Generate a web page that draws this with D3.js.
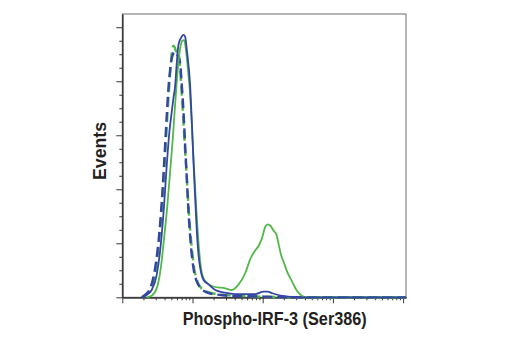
<!DOCTYPE html>
<html>
<head>
<meta charset="utf-8">
<script src="https://cdn.jsdelivr.net/npm/d3@7"></script>
<style>
  html, body { margin: 0; padding: 0; background: #fff; }
  svg { display: block; }
  .lbl { font-family: "Liberation Sans", Arial, sans-serif; font-weight: bold; fill: #231f20; }
</style>
</head>
<body>
<svg id="chart" width="520" height="350"></svg>
<script>
// Flow cytometry overlay: Phospho-IRF-3 (Ser386) intensity vs. events (% of max)
// Each series is a list of [intensity, events] points.

const xLabel = "Phospho-IRF-3 (Ser386)";
const yLabel = "Events";

const xMajorTicks = [10, 100, 1000, 10000, 100000];
const yMajorTicks = [0, 20, 40, 60, 80, 100];

// treated sample, phospho-IRF-3 antibody (green, solid)
const greenSolid = [
  [22.3, 0], [26.2, 0.6], [30.9, 3.3], [35.3, 10.7], [39.4, 21.9], [43.9, 34.2],
  [48.0, 46.5], [52.4, 58.9], [56.5, 71.2], [59.7, 79.9], [63.1, 87.3], [66.7, 92.2],
  [71.1, 94.9], [76.0, 95.2], [81.2, 91.0], [86.7, 83.6], [92.7, 74.9], [97.8, 63.8],
  [103.3, 51.5], [110.4, 37.9], [117.8, 25.6], [125.9, 15.7], [135.9, 8.9], [151.7, 6.0],
  [197.2, 4.0], [292.9, 3.3], [364.8, 2.7], [448.7, 4.6], [565, 9.0], [666.8, 14.2],
  [760, 16.9], [876.8, 19.1], [977.5, 21.9], [1091, 26.2], [1178, 27.0], [1288, 26.5],
  [1436, 24.6], [1567, 23.3], [1694, 19.4], [1827, 15.7], [1995, 13.0], [2227, 9.5],
  [2624, 5.8], [3093, 2.3], [3648, 0.5], [4299, 0], [110000, 0]
];

// untreated sample, phospho-IRF-3 antibody (blue, solid)
const blueSolid = [
  [19.3, 0], [22.3, 0.9], [26.2, 2.7], [30.9, 8.3], [35.3, 19.4], [39.4, 34.2],
  [43.0, 49.0], [46.9, 61.4], [50.7, 68.8], [53.5, 73.7], [56.5, 78.0], [59.7, 86.8],
  [63.1, 93.5], [68.1, 95.9], [74.4, 97.2], [78.5, 96.5], [83.0, 91.6], [92.7, 78.0],
  [97.8, 65.1], [103.3, 50.2], [109.2, 36.7], [115.3, 24.3], [121.8, 15.7], [131.5, 9.5],
  [143.6, 6.4], [169.4, 4.8], [210.9, 2.7], [323.6, 1.5], [407, 1.2], [785, 1.2],
  [1023, 2.1], [1178, 2.1], [1374, 1.5], [1909, 0.5], [2931, 0.1], [4797, 0], [110000, 0]
];

// treated sample, isotype control (green, dashed)
const greenDashed = [
  [19.3, 0], [21.8, 0.9], [25.7, 3.3], [30.3, 10.7], [34.5, 24.3], [38.1, 39.1],
  [41.1, 54.0], [43.9, 67.5], [46.4, 77.4], [49.0, 86.0], [51.2, 91.6], [53.5, 93.2],
  [55.9, 92.5], [58.5, 91.0], [61.7, 91.0], [65.2, 87.9], [68.9, 78.6], [72.8, 68.8],
  [77.6, 56.4], [83.0, 44.1], [88.7, 31.7], [96.8, 19.4], [105.7, 10.7], [117.8, 5.8],
  [131.5, 3.6], [160.2, 2.1], [199.5, 1.4], [277.5, 0.9], [535.2, 0.5], [1603, 0.1],
  [2484, 0], [110000, 0]
];

// untreated sample, isotype control (blue, dashed)
const blueDashed = [
  [18.9, 0], [21.1, 0.9], [24.9, 3.3], [29.3, 10.7], [33.8, 24.3], [37.3, 39.1],
  [40.3, 54.0], [43.0, 67.5], [45.4, 77.4], [48.0, 84.2], [50.7, 88.5], [53.5, 90.4],
  [56.5, 91.0], [59.7, 90.0], [63.1, 89.1], [66.7, 86.7], [70.4, 78.6], [74.4, 68.8],
  [78.5, 56.4], [83.0, 44.1], [87.7, 31.7], [94.7, 19.4], [103.3, 10.7], [115.3, 5.8],
  [128.8, 3.6], [151.7, 2.1], [178.6, 1.4], [248.5, 0.9], [345.1, 0.5], [666.8, 0.4],
  [1603, 0.1], [2484, 0], [110000, 0]
];

const GREEN = "#52b847";
const BLUE = "#3446a3";

const plot = { left: 122.3, right: 406, top: 14, bottom: 297.3 };

const svg = d3.select("#chart");

const x = d3.scaleLog().domain([10, 110000]).range([plot.left, plot.right]);
const y = d3.scaleLinear().domain([0, 104.9]).range([plot.bottom, plot.top]);

// log minor ticks: 2..9 within every decade
const xMinorTicks = [];
xMajorTicks.slice(0, -1).forEach(d => { for (let k = 2; k <= 9; k++) xMinorTicks.push(d * k); });
const yMinorTicks = d3.range(0, 105, 5).filter(v => v % 20 !== 0);

// frame
svg.append("rect")
  .attr("x", plot.left).attr("y", plot.top)
  .attr("width", plot.right - plot.left).attr("height", plot.bottom - plot.top)
  .attr("fill", "none").attr("stroke", "#6d6d6d").attr("stroke-width", 1);

function styleAxis(g) {
  g.selectAll("path.domain").attr("stroke", "#3a3a3a").attr("stroke-width", 1.2);
  g.selectAll(".tick line").attr("stroke", "#3a3a3a").attr("stroke-width", 1);
}

svg.append("g").attr("transform", `translate(0,${plot.bottom})`)
  .call(d3.axisBottom(x).tickValues(xMinorTicks).tickSize(3).tickSizeOuter(0).tickFormat(""))
  .call(styleAxis);
svg.append("g").attr("transform", `translate(0,${plot.bottom})`)
  .call(d3.axisBottom(x).tickValues(xMajorTicks).tickSize(6).tickSizeOuter(0).tickFormat(""))
  .call(styleAxis);

svg.append("g").attr("transform", `translate(${plot.left},0)`)
  .call(d3.axisLeft(y).tickValues(yMinorTicks).tickSize(3).tickSizeOuter(0).tickFormat(""))
  .call(styleAxis);
svg.append("g").attr("transform", `translate(${plot.left},0)`)
  .call(d3.axisLeft(y).tickValues(yMajorTicks).tickSize(6).tickSizeOuter(0).tickFormat(""))
  .call(styleAxis);

const line = d3.line()
  .x(d => x(d[0]))
  .y(d => y(d[1]))
  .curve(d3.curveMonotoneX);

const series = [
  { data: greenDashed, color: GREEN, dash: "10,5", width: 2.4 },
  { data: blueDashed, color: BLUE, dash: "10,5", width: 2.4 },
  { data: greenSolid, color: GREEN, dash: null, width: 1.8 },
  { data: blueSolid, color: BLUE, dash: null, width: 1.8 }
];

svg.append("g").selectAll("path")
  .data(series)
  .join("path")
  .attr("d", s => line(s.data))
  .attr("fill", "none")
  .attr("stroke", s => s.color)
  .attr("stroke-width", s => s.width)
  .attr("stroke-dasharray", s => s.dash)
  .attr("stroke-linejoin", "round");

// axis titles (condensed bold)
svg.append("text").attr("class", "lbl")
  .attr("x", 274.7).attr("y", 325)
  .attr("text-anchor", "middle").attr("font-size", 18.5)
  .attr("textLength", 184).attr("lengthAdjust", "spacingAndGlyphs")
  .text(xLabel);

svg.append("text").attr("class", "lbl")
  .attr("transform", `translate(105.5,151) rotate(-90)`)
  .attr("text-anchor", "middle").attr("font-size", 18.5)
  .attr("textLength", 58).attr("lengthAdjust", "spacingAndGlyphs")
  .text(yLabel);
</script>
</body>
</html>
